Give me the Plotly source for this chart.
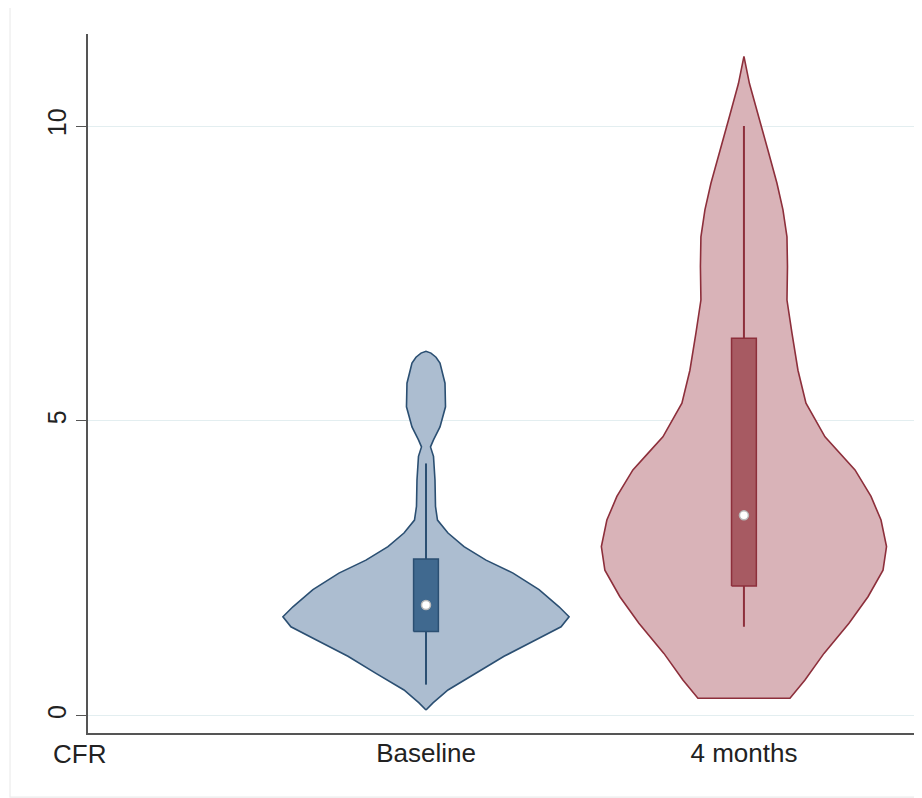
import plotly.graph_objects as go

# ---------------- data ----------------
categories = ["Baseline", "4 months"]

# violin outlines: y level and relative density (half-width, arbitrary units)
base_y = [0.10, 0.22, 0.44, 0.72, 1.01, 1.29, 1.51, 1.68, 1.85, 2.14, 2.42, 2.64, 2.87,
          3.10, 3.32, 3.55, 4.00, 4.40, 4.56, 4.68, 4.90, 5.24, 5.64, 5.98, 6.08, 6.15, 6.18]
base_d = [0, 7, 22, 50, 78, 110, 135, 143, 133, 113, 87, 60, 38,
          22, 11.5, 9.5, 9, 7.5, 4.5, 7.5, 14, 19.5, 19, 14, 10, 5, 0]

m4_y = [0.30, 0.30, 0.61, 1.06, 1.57, 2.02, 2.47, 2.87, 3.32, 3.72, 4.17, 4.45, 4.73,
        5.30, 5.86, 6.49, 7.05, 7.62, 8.12, 8.58, 9.03, 9.59, 10.16, 10.72, 11.18]
m4_d = [0, 46, 61, 80, 105, 124, 139, 142.5, 137, 127, 111, 96, 81,
        62, 54, 48, 43, 43.5, 43, 39, 33, 24, 14.5, 5.5, 0]

# box summary: lower whisker, q1, median, q3, upper whisker
lower_whisker = [0.53, 1.51]
q1 = [1.43, 2.20]
median = [1.88, 3.40]
q3 = [2.66, 6.40]
upper_whisker = [4.28, 10.0]

y_ticks = [0, 5, 10]

# ---------------- styles ----------------
fill_cols = ["#acbdd0", "#d9b3b8"]
line_cols = ["#2b4f72", "#8d2f3b"]
box_cols = ["#40698f", "#a75a62"]
max_half = 0.45      # data units of half-width for the largest density
box_half = 0.039

profiles = [(base_y, base_d), (m4_y, m4_d)]
dmax = max(max(base_d), max(m4_d))

fig = go.Figure()

for i, cat in enumerate(categories):
    pos = i + 1
    ys, ds = profiles[i]
    right_x = [pos + d / dmax * max_half for d in ds]
    left_x = [pos - d / dmax * max_half for d in ds]
    vx = right_x + left_x[::-1]
    vy = list(ys) + list(ys)[::-1]
    fig.add_trace(go.Scatter(x=vx, y=vy, mode="lines", fill="toself",
                             fillcolor=fill_cols[i],
                             line=dict(color=line_cols[i], width=1.6),
                             hoverinfo="skip", showlegend=False))
    # whisker
    fig.add_trace(go.Scatter(x=[pos, pos], y=[lower_whisker[i], upper_whisker[i]],
                             mode="lines", line=dict(color=line_cols[i], width=2),
                             hoverinfo="skip", showlegend=False))
    # box
    fig.add_trace(go.Scatter(x=[pos - box_half, pos + box_half, pos + box_half, pos - box_half, pos - box_half],
                             y=[q1[i], q1[i], q3[i], q3[i], q1[i]],
                             mode="lines", fill="toself", fillcolor=box_cols[i],
                             line=dict(color=line_cols[i], width=1.5),
                             hoverinfo="skip", showlegend=False))
    # median
    fig.add_trace(go.Scatter(x=[pos], y=[median[i]], mode="markers",
                             marker=dict(size=9, color="white",
                                         line=dict(color="#b9b9b9", width=1.5)),
                             name=cat, showlegend=False))

fig.update_layout(
    width=914, height=790,
    margin=dict(l=80, r=0, t=26, b=65),
    paper_bgcolor="white", plot_bgcolor="white",
    font=dict(family="Liberation Sans, Arial, sans-serif", size=25, color="#222222"),
    showlegend=False,
    xaxis=dict(range=[-0.063, 2.56], tickmode="array",
               tickvals=[i + 1 for i in range(len(categories))], ticktext=categories,
               showgrid=False, zeroline=False, showline=True, linecolor="#555555",
               linewidth=1.6, ticks="", ticklabelstandoff=-4,
               tickfont=dict(size=26, color="#222222")),
    yaxis=dict(range=[-0.29, 11.56], tickmode="array", tickvals=y_ticks,
               ticktext=[str(v) for v in y_ticks], tickangle=-90,
               showgrid=True, gridcolor="#e3eef0", gridwidth=1.2, zeroline=False,
               showline=True, linecolor="#555555", linewidth=1.6,
               ticks="outside", ticklen=10, tickcolor="#555555", tickwidth=1.4,
               tickfont=dict(size=25, color="#222222")),
    shapes=[dict(type="rect", xref="paper", yref="paper",
                 x0=-0.0935, x1=1.05, y0=-0.0916, y1=1.0386,
                 line=dict(color="#ececec", width=1.2), layer="below")],
    annotations=[dict(text="CFR", xref="paper", yref="paper", x=-0.0096, y=-0.030,
                      xanchor="center", yanchor="middle", showarrow=False,
                      font=dict(size=26, color="#222222"))],
)

fig.write_html("out.html")
